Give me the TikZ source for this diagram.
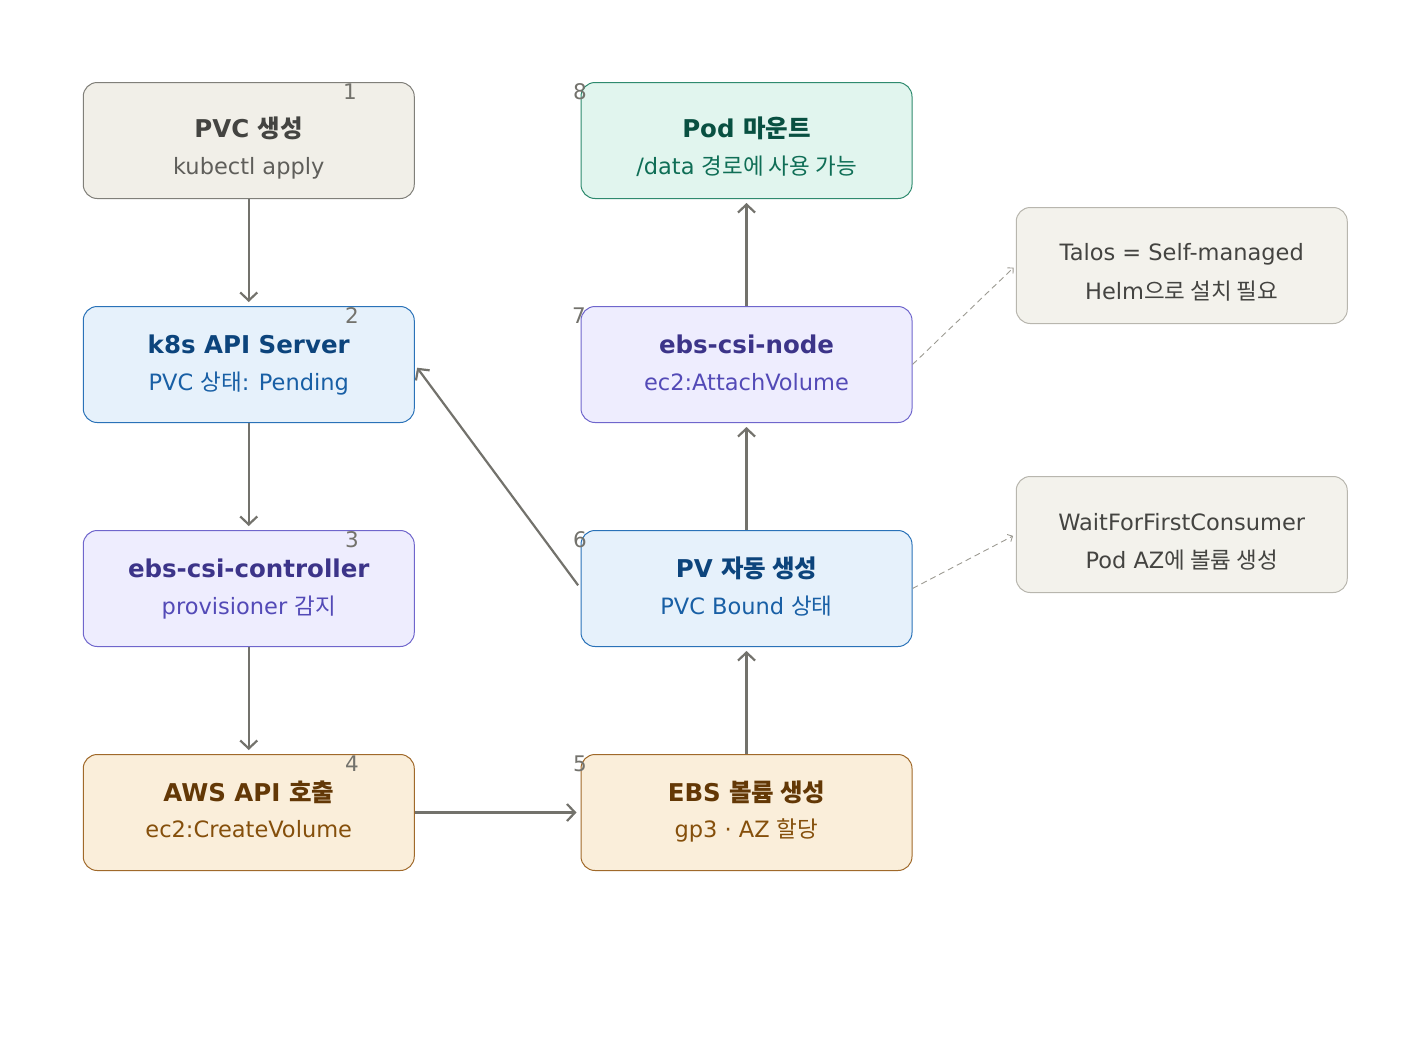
\documentclass[tikz,border=0pt]{standalone}
\usepackage{fontspec}
\setmainfont{DejaVu Sans}
\newfontfamily\kr{Noto Sans CJK KR}
\usetikzlibrary{arrows.meta}
\definecolor{arrowgray}{HTML}{73726C}
\definecolor{numgray}{HTML}{73726C}
\definecolor{notegray}{HTML}{9C9A92}
\definecolor{gfill}{HTML}{F1EFE8}\definecolor{gdraw}{HTML}{807F79}\definecolor{gtitle}{HTML}{444441}\definecolor{gsub}{HTML}{5F5E5A}
\definecolor{bfill}{HTML}{E6F1FB}\definecolor{bdraw}{HTML}{2A72B8}\definecolor{btitle}{HTML}{0C447C}\definecolor{bsub}{HTML}{185FA5}
\definecolor{pfill}{HTML}{EEEDFE}\definecolor{pdraw}{HTML}{6F66CC}\definecolor{ptitle}{HTML}{3C3489}\definecolor{psub}{HTML}{534AB7}
\definecolor{afill}{HTML}{FAEEDA}\definecolor{adraw}{HTML}{A0692A}\definecolor{atitle}{HTML}{633806}\definecolor{asub}{HTML}{854F0B}
\definecolor{tfill}{HTML}{E1F5EE}\definecolor{tdraw}{HTML}{2E8A6E}\definecolor{ttitle}{HTML}{085041}\definecolor{tsub}{HTML}{0F6E56}
\definecolor{nfill}{HTML}{F3F2EC}\definecolor{ndraw}{HTML}{B8B6AE}\definecolor{ntext}{HTML}{444441}
\tikzset{
  box/.style={rectangle, rounded corners=14pt, minimum width=331pt, minimum height=116pt, line width=1pt, inner sep=0pt},
  notebox/.style={box, fill=nfill, draw=ndraw},
  ttl/.style={anchor=base, inner sep=0pt, font=\fontsize{24.5}{30}\selectfont\bfseries},
  sub/.style={anchor=base, inner sep=0pt, font=\fontsize{22.5}{26}\selectfont},
  ntxt/.style={anchor=base, inner sep=0pt, font=\fontsize{22.5}{26}\selectfont, text=ntext},
  num/.style={inner sep=0pt, font=\fontsize{21.5}{25}\selectfont, text=numgray},
  flow/.style={draw=arrowgray, line width=2.2pt, -{Straight Barb[length=8pt,width=17pt,line width=2.2pt]}, shorten >=4pt},
  link/.style={draw=notegray, line width=0.9pt, dash pattern=on 6pt off 4pt, -{Straight Barb[length=4pt,width=8pt,line width=0.9pt]}, shorten >=3pt}
}
\begin{document}
\begin{tikzpicture}[x=1pt,y=-1pt]
\useasboundingbox (0,0) rectangle (1410,1036);
% boxes
\node[box, fill=gfill, draw=gdraw] (b1) at (248.75,140.5) {};
\node[box, fill=bfill, draw=bdraw] (b2) at (248.75,364.5) {};
\node[box, fill=pfill, draw=pdraw] (b3) at (248.75,588.5) {};
\node[box, fill=afill, draw=adraw] (b4) at (248.75,812.5) {};
\node[box, fill=afill, draw=adraw] (b5) at (746.5,812.5) {};
\node[box, fill=bfill, draw=bdraw] (b6) at (746.5,588.5) {};
\node[box, fill=pfill, draw=pdraw] (b7) at (746.5,364.5) {};
\node[box, fill=tfill, draw=tdraw] (b8) at (746.5,140.5) {};
\node[notebox] (n1) at (1181.75,265.5) {};
\node[notebox] (n2) at (1181.75,534.5) {};
% texts
\node[ttl, text=gtitle] (t1) at (248.75,137.7) {PVC {\kr 생성}};
\node[sub, text=gsub] (s1) at (248.75,174.3) {kubectl apply};
\node[ttl, text=btitle] (t2) at (248.75,353.3) {k8s API Server};
\node[sub, text=bsub] (s2) at (248.75,390.7) {PVC {\kr 상태}: Pending};
\node[ttl, text=ptitle] (t3) at (248.75,577.7) {ebs-csi-controller};
\node[sub, text=psub] (s3) at (248.75,614.3) {provisioner {\kr 감지}};
\node[ttl, text=atitle] (t4) at (248.75,801.7) {AWS API {\kr 호출}};
\node[sub, text=asub] (s4) at (248.75,837.5) {ec2:CreateVolume};
\node[ttl, text=atitle] (t5) at (746.5,801.7) {EBS {\kr 볼륨 생성}};
\node[sub, text=asub] (s5) at (746.5,837.5) {gp3 · AZ {\kr 할당}};
\node[ttl, text=btitle] (t6) at (746.5,577.7) {PV {\kr 자동 생성}};
\node[sub, text=bsub] (s6) at (746.5,614.3) {PVC Bound {\kr 상태}};
\node[ttl, text=ptitle] (t7) at (746.5,353.3) {ebs-csi-node};
\node[sub, text=psub] (s7) at (746.5,390.7) {ec2:AttachVolume};
\node[ttl, text=ttitle] (t8) at (746.5,137.7) {Pod {\kr 마운트}};
\node[sub, text=tsub] (s8) at (746.5,174.3) {/data {\kr 경로에 사용 가능}};
\node[ntxt] (m1) at (1181.75,260.8) {Talos = Self-managed};
\node[ntxt] (m2) at (1181.75,299.3) {Helm{\kr 으로 설치 필요}};
\node[ntxt] (m3) at (1181.75,530) {WaitForFirstConsumer};
\node[ntxt] (m4) at (1181.75,568.3) {Pod AZ{\kr 에 볼륨 생성}};
% step numbers
\node[num] (k1) at (350,92) {1};
\node[num] (k2) at (352,316) {2};
\node[num] (k3) at (352,540) {3};
\node[num] (k4) at (352,764) {4};
\node[num] (k5) at (580,764) {5};
\node[num] (k6) at (580,540) {6};
\node[num] (k7) at (579,316) {7};
\node[num] (k8) at (580,92) {8};
% connectors
\draw[flow] (b1.south) -- (b2.north);
\draw[flow] (b2.south) -- (b3.north);
\draw[flow] (b3.south) -- (b4.north);
\draw[flow] (b4.east) -- (b5.west);
\draw[flow] (b5.north) -- (b6.south);
\draw[flow, shorten <=4pt] (b6.west) -- (b2.east);
\draw[flow] (b6.north) -- (b7.south);
\draw[flow] (b7.north) -- (b8.south);
\draw[link] (b7.east) -- (n1.west);
\draw[link] (b6.east) -- (n2.west);
\end{tikzpicture}
\end{document}
